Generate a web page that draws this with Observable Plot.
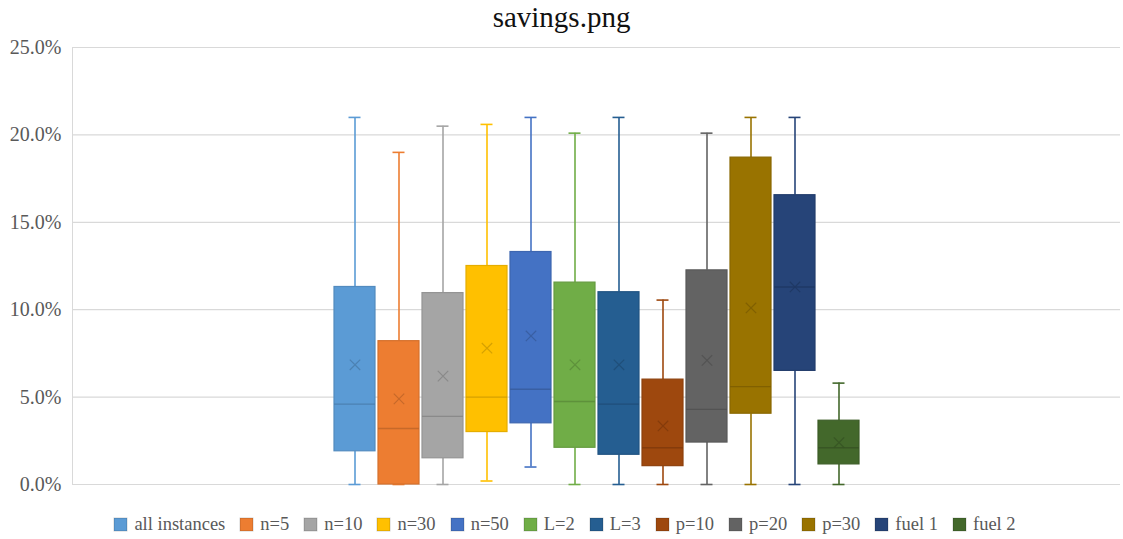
<!DOCTYPE html>
<html>
<head>
<meta charset="utf-8">
<script src="https://cdn.jsdelivr.net/npm/d3@7"></script>
<script src="https://cdn.jsdelivr.net/npm/@observablehq/plot@0.6"></script>
<style>
  body { margin: 0; background: #fff; width: 1123px; }
  #title {
    height: 34px; line-height: 34px; text-align: center;
    font-family: "Liberation Serif", "Noto Serif", "DejaVu Serif", serif; font-size: 29px; color: #111;
  }
  #chart svg text { fill: #595959; }
  #legend { padding-left: 22px; }
  #legend > div { display: flex !important; justify-content: center; flex-wrap: nowrap; margin: 0 !important; min-height: 28px !important; align-items: center; }
  div.lg-swatches .lg-swatch { margin-right: 15px !important; }
  div.lg-swatches .lg-swatch > svg { margin-right: 7px !important; }
  div.lg-swatches .lg-swatch rect { stroke: rgba(0,0,0,0.18); stroke-width: 1; }
</style>
</head>
<body>
<div id="title">savings.png</div>
<div id="chart"></div>
<div id="legend"></div>
<script>
// Savings per instance group, in percent
const names  = ["all instances", "n=5", "n=10", "n=30", "n=50", "L=2", "L=3", "p=10", "p=20", "p=30", "fuel 1", "fuel 2"];
const colors = ["#5B9BD5", "#ED7D31", "#A5A5A5", "#FFC000", "#4472C4", "#70AD47", "#255E91", "#9E480E", "#636363", "#997300", "#264478", "#43682B"];
const low    = [0,    0,    0,     0.2,  1.0,  0,     0,    0,     0,     0,    0,     0];
const q1     = [1.9,  0,    1.5,   3.0,  3.5,  2.1,   1.7,  1.05,  2.4,   4.05, 6.5,   1.15];
const median = [4.6,  3.2,  3.9,   5.0,  5.45, 4.75,  4.6,  2.1,   4.3,   5.6,  11.3,  2.1];
const q3     = [11.3, 8.2,  10.95, 12.5, 13.3, 11.55, 11.0, 6.0,   12.25, 18.7, 16.55, 3.65];
const high   = [21.0, 19.0, 20.5,  20.6, 21.0, 20.1,  21.0, 10.55, 20.1,  21.0, 21.0,  5.8];
const mean   = [6.85, 4.9,  6.2,   7.8,  8.5,  6.85,  6.85, 3.35,  7.1,   10.1, 11.3,  2.4];
const yTicks = [0, 5, 10, 15, 20, 25];

const rows = names.map((name, i) => ({
  name,
  color: colors[i],
  edge: d3.color(colors[i]).darker(0.3).formatHex(),
  dark: d3.color(colors[i]).darker(0.6).formatHex(),
  low: low[i], q1: q1[i], median: median[i], q3: q3[i], high: high[i], mean: mean[i]
}));

const font = "'Liberation Serif', 'Noto Serif', 'DejaVu Serif', serif";

const chart = Plot.plot({
  width: 1123,
  height: 476,
  marginLeft: 72,
  marginRight: 3,
  marginTop: 13,
  marginBottom: 26,
  style: { fontFamily: font, fontSize: "20px", color: "#d9d9d9", background: "#fff", overflow: "visible" },
  x: { domain: names, range: [330.4, 862.6], padding: 0.07, axis: null },
  y: {
    domain: [0, 25], ticks: yTicks, tickFormat: d => d.toFixed(1) + "%",
    tickSize: 0, tickPadding: 11, line: true, label: null
  },
  color: { type: "identity" },
  marks: [
    Plot.ruleY(yTicks, { stroke: "#d9d9d9", strokeWidth: 1.2 }),
    // whiskers
    Plot.ruleX(rows, { x: "name", y1: "q3", y2: "high", stroke: "color", strokeWidth: 1.6 }),
    Plot.ruleX(rows, { x: "name", y1: "low", y2: "q1", stroke: "color", strokeWidth: 1.6 }),
    Plot.tickY(rows, { x: "name", y: "high", stroke: "color", strokeWidth: 1.6, insetLeft: 14.5, insetRight: 14.5 }),
    Plot.tickY(rows, { x: "name", y: "low", stroke: "color", strokeWidth: 1.6, insetLeft: 14.5, insetRight: 14.5 }),
    // boxes
    Plot.barY(rows, { x: "name", y1: "q1", y2: "q3", fill: "color", stroke: "edge", strokeWidth: 1.2 }),
    // medians
    Plot.tickY(rows, { x: "name", y: "median", stroke: "dark", strokeWidth: 1.4, strokeOpacity: 0.85 }),
    // means
    Plot.dot(rows, { x: "name", y: "mean", symbol: "times", r: 4.8, stroke: "dark", strokeWidth: 1.2, strokeOpacity: 0.85 })
  ]
});
document.getElementById("chart").appendChild(chart);

const legend = Plot.legend({
  color: { type: "ordinal", domain: names, range: colors },
  legend: "swatches",
  swatchSize: 13,
  className: "lg",
  style: { fontFamily: font, fontSize: "18.5px", color: "#595959" }
});
document.getElementById("legend").appendChild(legend);
</script>
</body>
</html>
